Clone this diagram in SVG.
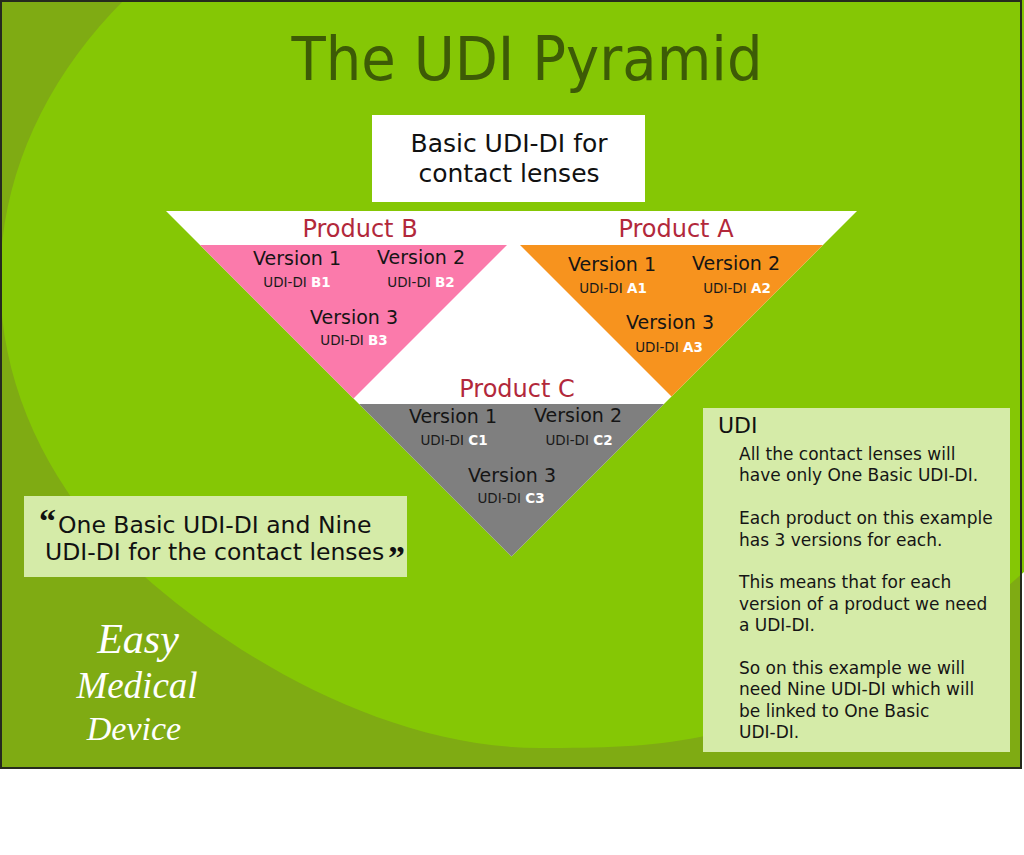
<svg xmlns="http://www.w3.org/2000/svg" width="1024" height="855" viewBox="0 0 1024 855">
<style>
  text { font-family: "DejaVu Sans", "Liberation Sans", sans-serif; }
  .title { font-size: 60px; fill: #3d5b06; }
  .basic { font-size: 25px; fill: #111; text-anchor: middle; }
  .prod { font-size: 24px; fill: #b2283b; text-anchor: middle; }
  .ver { font-size: 19px; fill: #151515; text-anchor: middle; }
  .udi { font-size: 13.5px; fill: #1a1a1a; text-anchor: middle; }
  .id { font-weight: bold; fill: #ffffff; }
  .quote { font-size: 23.5px; fill: #111; }
  .qm { font-family: "Liberation Serif", "DejaVu Serif", serif; font-weight: bold; font-size: 34px; fill: #111; }
  .head { font-size: 22px; fill: #111; }
  .body { font-size: 17px; fill: #151515; }
  .logo { font-family: "Liberation Serif", "DejaVu Serif", serif; font-style: italic; fill: #ffffff; text-anchor: middle; }
</style>
<rect x="0" y="0" width="1024" height="855" fill="#ffffff"/>
<g id="background">
  <rect x="1" y="1" width="1020" height="767" fill="#7fab13"/>
  <path d="M124,0 A600,460 0 0 0 67,491 C134,591 340,748 540,748 C600,748 650,747 700,737 C780,721 864,680 924,647 C964,625 989,603 1024,572 L1024,0 Z" fill="#85c705"/>
  <rect x="1" y="1" width="1020" height="767" fill="none" stroke="#262a1e" stroke-width="2"/>
</g>
<g id="title">
  <text class="title" x="527" y="80" text-anchor="middle" textLength="471" lengthAdjust="spacingAndGlyphs">The UDI Pyramid</text>
</g>
<g id="basic-udi-di">
  <rect x="372" y="115" width="273" height="87" fill="#ffffff"/>
  <text class="basic" x="509" y="152">Basic UDI-DI for</text>
  <text class="basic" x="509" y="182">contact lenses</text>
</g>
<g id="pyramid">
  <polygon points="166,211 857,211 511.5,556.5" fill="#ffffff"/>
</g>
<g id="product-b">
  <polygon points="200,245 507,245 353.5,398.5" fill="#fb7aab"/>
  <text class="prod" x="360" y="237">Product B</text>
  <text class="ver" x="297" y="265">Version 1</text>
  <text class="udi" x="297" y="287">UDI-DI <tspan class="id">B1</tspan></text>
  <text class="ver" x="421" y="264">Version 2</text>
  <text class="udi" x="421" y="287">UDI-DI <tspan class="id">B2</tspan></text>
  <text class="ver" x="354" y="324">Version 3</text>
  <text class="udi" x="354" y="345">UDI-DI <tspan class="id">B3</tspan></text>
</g>
<g id="product-a">
  <polygon points="520,245 823,245 671.5,396.5" fill="#f7931e"/>
  <text class="prod" x="676" y="237">Product A</text>
  <text class="ver" x="612" y="271">Version 1</text>
  <text class="udi" x="613" y="293">UDI-DI <tspan class="id">A1</tspan></text>
  <text class="ver" x="736" y="270">Version 2</text>
  <text class="udi" x="737" y="293">UDI-DI <tspan class="id">A2</tspan></text>
  <text class="ver" x="670" y="329">Version 3</text>
  <text class="udi" x="669" y="352">UDI-DI <tspan class="id">A3</tspan></text>
</g>
<g id="product-c">
  <polygon points="359,404 664,404 511.5,556.5" fill="#7f7f7f"/>
  <text class="prod" x="517" y="397">Product C</text>
  <text class="ver" x="453" y="423">Version 1</text>
  <text class="udi" x="454" y="445">UDI-DI <tspan class="id">C1</tspan></text>
  <text class="ver" x="578" y="422">Version 2</text>
  <text class="udi" x="579" y="445">UDI-DI <tspan class="id">C2</tspan></text>
  <text class="ver" x="512" y="482">Version 3</text>
  <text class="udi" x="511" y="503">UDI-DI <tspan class="id">C3</tspan></text>
</g>
<g id="quote">
  <rect x="24" y="496" width="383" height="81" fill="#d5eba8"/>
  <text class="qm" x="39" y="531.5">“</text>
  <text class="quote" x="58" y="533">One Basic UDI-DI and Nine</text>
  <text class="quote" x="45" y="560">UDI-DI for the contact lenses</text>
  <text class="qm" x="388" y="568.5">”</text>
</g>
<g id="udi-note">
  <rect x="703" y="408" width="307" height="344" fill="#d5eba8"/>
  <text class="head" x="718" y="433">UDI</text>
  <text class="body" x="739" y="460">All the contact lenses will</text>
  <text class="body" x="739" y="481.4">have only One Basic UDI-DI.</text>
  <text class="body" x="739" y="524.2">Each product on this example</text>
  <text class="body" x="739" y="545.6">has 3 versions for each.</text>
  <text class="body" x="739" y="588.4">This means that for each</text>
  <text class="body" x="739" y="609.8">version of a product we need</text>
  <text class="body" x="739" y="631.2">a UDI-DI.</text>
  <text class="body" x="739" y="674">So on this example we will</text>
  <text class="body" x="739" y="695.4">need Nine UDI-DI which will</text>
  <text class="body" x="739" y="716.8">be linked to One Basic</text>
  <text class="body" x="739" y="738.2">UDI-DI.</text>
</g>
<g id="logo">
  <text class="logo" x="138" y="653" font-size="42">Easy</text>
  <text class="logo" x="137" y="698" font-size="37">Medical</text>
  <text class="logo" x="134" y="740" font-size="34">Device</text>
</g>
<g id="connectors"/>
</svg>
